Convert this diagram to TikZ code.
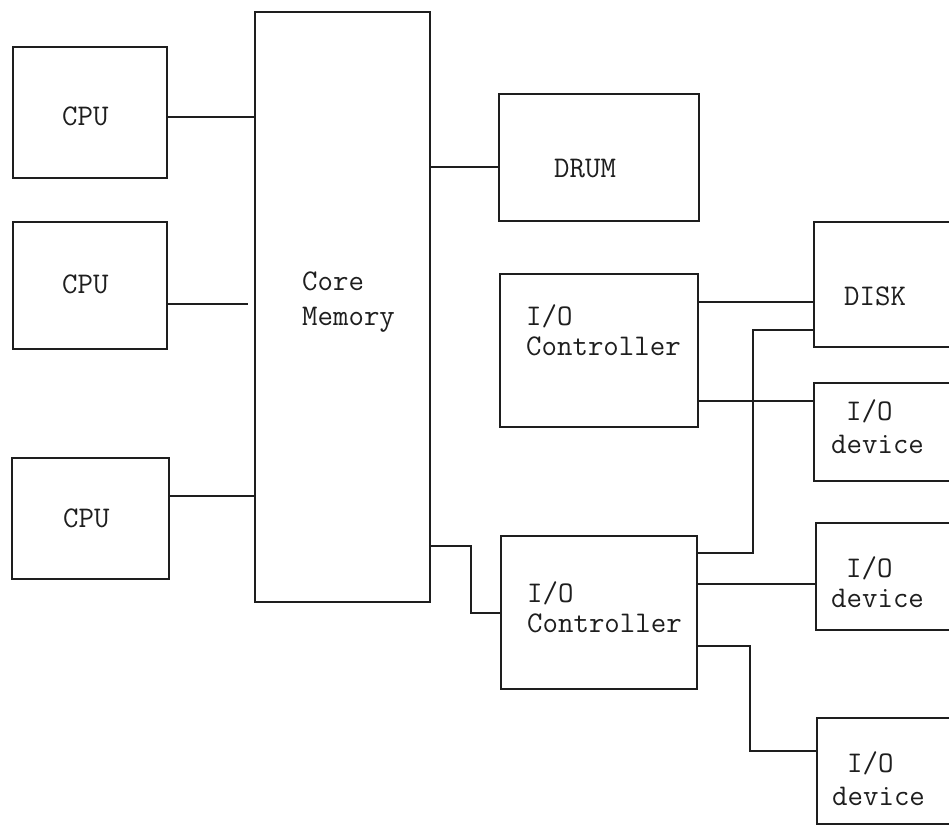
\documentclass[tikz,border=0pt]{standalone}
\usepackage{fontspec}
\tikzset{
  box/.style={draw=ink, line width=1.6pt, rectangle, inner sep=0pt, anchor=north west},
  wire/.style={draw=ink, line width=1.5pt},
  lbl/.style={inner sep=0pt, anchor=base west, text=ink, font=\fontsize{30}{34}\selectfont\ttfamily}
}
\definecolor{ink}{HTML}{1E1E1E}
\begin{document}
\begin{tikzpicture}[x=1pt,y=-1pt]
\useasboundingbox (0,0) rectangle (949,825);
\clip (0,0) rectangle (949,825);
\fill[white] (0,0) rectangle (949,825);
% boxes
\node[box, minimum width=154pt, minimum height=131pt] (cpu1) at (12,46) {};
\node[box, minimum width=154pt, minimum height=127pt] (cpu2) at (12,221) {};
\node[box, minimum width=157pt, minimum height=121pt] (cpu3) at (11,457) {};
\node[box, minimum width=175pt, minimum height=590pt] (core) at (254,11) {};
\node[box, minimum width=200pt, minimum height=127pt] (drum) at (498,93) {};
\node[box, minimum width=198pt, minimum height=153pt] (ctrlA) at (499,273) {};
\node[box, minimum width=196pt, minimum height=153pt] (ctrlB) at (500,535) {};
\node[box, minimum width=160pt, minimum height=125pt] (disk) at (813,221) {};
\node[box, minimum width=160pt, minimum height=98pt] (devA) at (813,382) {};
\node[box, minimum width=160pt, minimum height=107pt] (devB) at (815,522) {};
\node[box, minimum width=160pt, minimum height=106pt] (devC) at (816,717) {};
% labels
\node[lbl] (tcpu1) at (62,125) {CPU};
\node[lbl] (tcpu2) at (62,293) {CPU};
\node[lbl] (tcpu3) at (63,527) {CPU};
\node[lbl] (tcore1) at (302,290) {Core};
\node[lbl] (tcore2) at (302,325) {Memory};
\node[lbl] (tdrum) at (554,177) {DRUM};
\node[lbl] (tctrlA1) at (526,325) {I/O};
\node[lbl] (tctrlA2) at (526,355) {Controller};
\node[lbl] (tctrlB1) at (527,602) {I/O};
\node[lbl] (tctrlB2) at (527,632) {Controller};
\node[lbl] (tdisk) at (844,305) {DISK};
\node[lbl] (tdevA1) at (846,420) {I/O};
\node[lbl] (tdevA2) at (831,453) {device};
\node[lbl] (tdevB1) at (846,577) {I/O};
\node[lbl] (tdevB2) at (831,607) {device};
\node[lbl] (tdevC1) at (847,772) {I/O};
\node[lbl] (tdevC2) at (832,805) {device};
% connectors
\draw[wire] (cpu1.east |- 0,117) -- (core.west |- 0,117);
\draw[wire] (cpu2.east |- 0,304) -- ([xshift=-6pt]core.west |- 0,304);
\draw[wire] (cpu3.east |- 0,496) -- (core.west |- 0,496);
\draw[wire] (core.east |- 0,167) -- (drum.west |- 0,167);
\draw[wire] (core.east |- 0,546) -- (471,546) -- (471,613) -- (ctrlB.west |- 0,613);
\draw[wire] (ctrlA.east |- 0,302) -- (disk.west |- 0,302);
\draw[wire] (ctrlA.east |- 0,401) -- (devA.west |- 0,401);
\draw[wire] (ctrlB.east |- 0,553) -- (753,553) -- (753,330) -- (disk.west |- 0,330);
\draw[wire] (ctrlB.east |- 0,584) -- (devB.west |- 0,584);
\draw[wire] (ctrlB.east |- 0,646) -- (750,646) -- (750,751) -- (devC.west |- 0,751);
\end{tikzpicture}
\end{document}
